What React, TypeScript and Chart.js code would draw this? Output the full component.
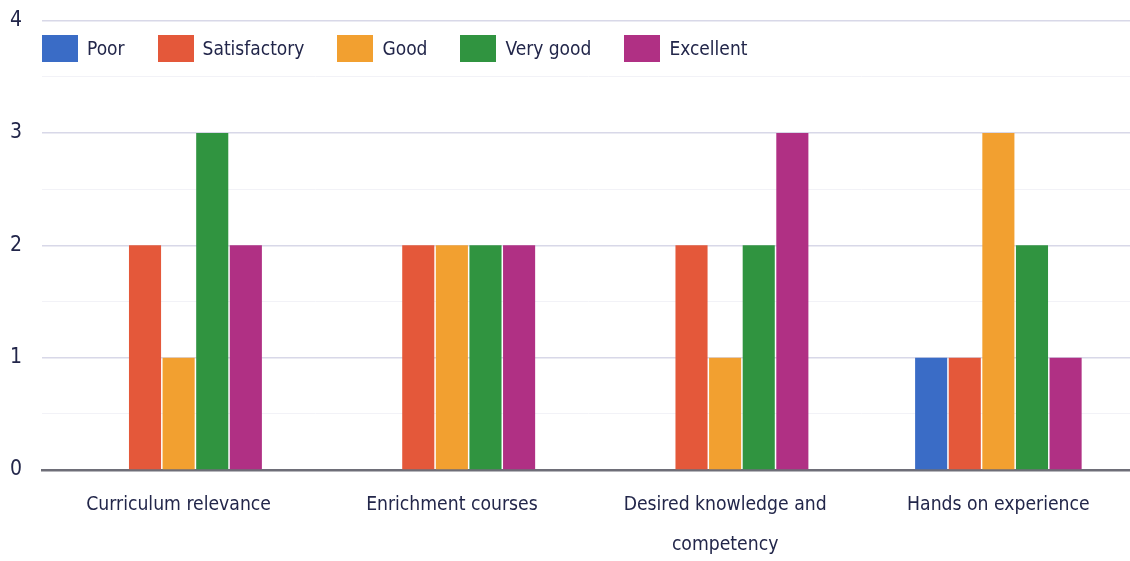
import React, { useEffect, useRef } from 'react';
import { Chart, registerables } from 'chart.js';

Chart.register(...registerables);

const categories: (string | string[])[] = [
  'Curriculum relevance',
  'Enrichment courses',
  ['Desired knowledge and', 'competency'],
  'Hands on experience',
];
const seriesNames = ['Poor', 'Satisfactory', 'Good', 'Very good', 'Excellent'];
const poor = [0, 0, 0, 1];
const satisfactory = [2, 2, 2, 1];
const good = [1, 2, 1, 3];
const veryGood = [3, 2, 2, 2];
const excellent = [2, 2, 3, 1];
const seriesColors = ['#3a6cc6', '#e4583a', '#f2a030', '#309440', '#b03084'];
const yMin = 0;
const yMax = 4;

const FONT = "'Liberation Sans Narrow', 'Noto Sans Condensed', 'DejaVu Sans Condensed', 'Liberation Sans', sans-serif";
const TEXT = '#22264a';

export default function App() {
  const ref = useRef<HTMLCanvasElement>(null);

  useEffect(() => {
    document.body.style.margin = '0';
    const values = [poor, satisfactory, good, veryGood, excellent];
    const chart = new Chart(ref.current!, {
      type: 'bar',
      data: {
        labels: categories as any,
        datasets: seriesNames.map((name, i) => ({
          label: name,
          data: values[i],
          backgroundColor: seriesColors[i],
          borderWidth: 0,
          barPercentage: 0.955,
          categoryPercentage: 0.615,
        })),
      },
      options: {
        animation: false,
        responsive: false,
        layout: { padding: { left: 0, right: 0, top: 0, bottom: 0 } },
        plugins: { legend: { display: false }, tooltip: { enabled: false } },
        scales: {
          x: {
            grid: { display: false, drawTicks: false },
            border: { display: true, color: '#6e6e78', width: 2.5 },
            ticks: {
              color: TEXT,
              font: { family: FONT, size: 19.2, lineHeight: 2.08 },
              padding: 15,
              maxRotation: 0,
              autoSkip: false,
            },
            afterFit: (s: any) => {
              s.height = 91;
            },
          },
          y: {
            min: yMin,
            max: yMax,
            border: { display: false },
            grid: {
              drawTicks: false,
              color: (c: any) => (Number.isInteger(c.tick.value) ? '#d8d8e8' : '#f2f2f7'),
              lineWidth: (c: any) => (Number.isInteger(c.tick.value) ? 1.5 : 1),
            },
            ticks: {
              stepSize: 0.5,
              color: TEXT,
              font: { family: FONT, size: 21, lineHeight: 0.05 },
              padding: 20,
              callback: (v: any) => (Number.isInteger(v) ? String(v) : ''),
            },
            afterFit: (s: any) => {
              s.width = 42;
            },
          },
        },
      },
    });
    return () => chart.destroy();
  }, []);

  return (
    <div style={{ position: 'relative', width: 1130, height: 561, background: '#fff', overflow: 'hidden' }}>
      <canvas ref={ref} width={1135} height={561} style={{ display: 'block' }} />
      <div
        style={{
          position: 'absolute',
          left: 42,
          top: 35,
          display: 'flex',
          alignItems: 'center',
          fontFamily: FONT,
          fontSize: 19,
          color: TEXT,
          lineHeight: '27px',
        }}
      >
        {seriesNames.map((name, i) => (
          <div key={name} style={{ display: 'flex', alignItems: 'center', marginRight: 33 }}>
            <span style={{ display: 'inline-block', width: 36, height: 27, background: seriesColors[i], marginRight: 9 }} />
            <span>{name}</span>
          </div>
        ))}
      </div>
    </div>
  );
}
